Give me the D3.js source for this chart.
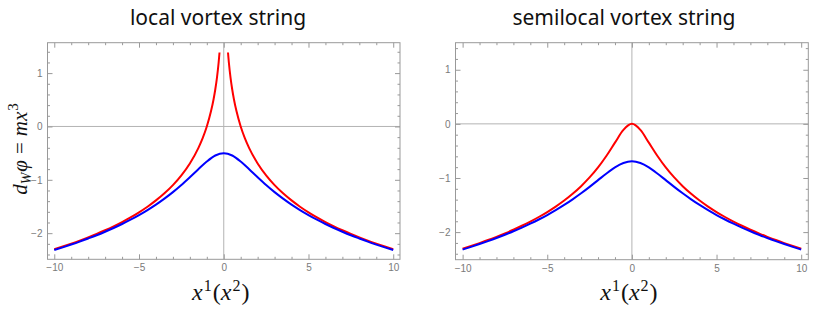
<!DOCTYPE html>
<html>
<head>
<meta charset="utf-8">
<script src="https://cdn.jsdelivr.net/npm/d3@7"></script>
<style>
  body { margin: 0; background: #fff; }
  .tick text { font-family: "Liberation Sans", Arial, sans-serif; font-size: 10px; fill: #7a7a7a; }
  .tick line { stroke: #999; }
  .title { font-family: "Noto Sans", sans-serif; font-size: 21px; fill: #111; }
  .math { font-family: "Liberation Serif", serif; fill: #111; }
</style>
</head>
<body>
<div id="chart"></div>
<script>
var svgWidth = 817;
var svgHeight = 312;

// sample points
var xs = [-10, -9.5, -9, -8.5, -8, -7.5, -7, -6.5, -6, -5.5, -5, -4.5, -4, -3.5, -3, -2.5, -2, -1.5, -1, -0.5, 0,
          0.5, 1, 1.5, 2, 2.5, 3, 3.5, 4, 4.5, 5, 5.5, 6, 6.5, 7, 7.5, 8, 8.5, 9, 9.5, 10];

var localBlue = [-2.316, -2.266, -2.214, -2.159, -2.100, -2.039, -1.973, -1.903, -1.828, -1.748, -1.661, -1.567, -1.465, -1.353, -1.231, -1.097, -0.952, -0.802, -0.657, -0.544, -0.500,
                 -0.544, -0.657, -0.802, -0.952, -1.097, -1.231, -1.353, -1.465, -1.567, -1.661, -1.748, -1.828, -1.903, -1.973, -2.039, -2.100, -2.159, -2.214, -2.266, -2.316];

// red local curve blows up at the string core, so it has its own x points and a gap at 0
var localRedX = [-10, -9.5, -9, -8.5, -8, -7.5, -7, -6.5, -6, -5.5, -5, -4.5, -4, -3.5, -3, -2.5, -2, -1.5, -1.25, -1, -0.75, -0.6, -0.5, -0.4, -0.3, -0.25, 0,
                 0.25, 0.3, 0.4, 0.5, 0.6, 0.75, 1, 1.25, 1.5, 2, 2.5, 3, 3.5, 4, 4.5, 5, 5.5, 6, 6.5, 7, 7.5, 8, 8.5, 9, 9.5, 10];
var localRed = [-2.303, -2.251, -2.197, -2.140, -2.079, -2.015, -1.946, -1.872, -1.792, -1.705, -1.609, -1.504, -1.386, -1.253, -1.099, -0.916, -0.693, -0.405, -0.223, 0, 0.288, 0.511, 0.693, 0.916, 1.204, 1.386, null,
                1.386, 1.204, 0.916, 0.693, 0.511, 0.288, 0, -0.223, -0.405, -0.693, -0.916, -1.099, -1.253, -1.386, -1.504, -1.609, -1.705, -1.792, -1.872, -1.946, -2.015, -2.079, -2.140, -2.197, -2.251, -2.303];

var semiRed = [-2.308, -2.257, -2.203, -2.147, -2.087, -2.024, -1.956, -1.883, -1.805, -1.721, -1.629, -1.528, -1.417, -1.292, -1.151, -0.990, -0.805, -0.589, -0.347, -0.112, 0,
               -0.112, -0.347, -0.589, -0.805, -0.990, -1.151, -1.292, -1.417, -1.528, -1.629, -1.721, -1.805, -1.883, -1.956, -2.024, -2.087, -2.147, -2.203, -2.257, -2.308];

var semiBlue = [-2.322, -2.273, -2.221, -2.167, -2.110, -2.049, -1.985, -1.917, -1.844, -1.767, -1.684, -1.594, -1.498, -1.394, -1.283, -1.164, -1.040, -0.916, -0.805, -0.724, -0.693,
                -0.724, -0.805, -0.916, -1.040, -1.164, -1.283, -1.394, -1.498, -1.594, -1.684, -1.767, -1.844, -1.917, -1.985, -2.049, -2.110, -2.167, -2.221, -2.273, -2.322];

var titles = ["local vortex string", "semilocal vortex string"];
var xMajor = [-10, -5, 0, 5, 10];
var xMinor = [-9, -8, -7, -6, -4, -3, -2, -1, 1, 2, 3, 4, 6, 7, 8, 9];
var yMajor = [-2, -1, 0, 1];
var yMinor = [-2.4, -2.2, -1.8, -1.6, -1.4, -1.2, -0.8, -0.6, -0.4, -0.2, 0.2, 0.4, 0.6, 0.8, 1.2, 1.4];

var panels = [
  { left: 47.5, right: 400, top: 42.7, bottom: 259.3, xDom: [-10.4, 10.4], yDom: [-2.49, 1.57], titleX: 218,
    series: [{ x: localRedX, y: localRed, color: "#ff0000" }, { x: xs, y: localBlue, color: "#0000ff" }] },
  { left: 455.5, right: 808.3, top: 42.7, bottom: 259.7, xDom: [-10.42, 10.42], yDom: [-2.51, 1.5], titleX: 624,
    series: [{ x: xs, y: semiRed, color: "#ff0000" }, { x: xs, y: semiBlue, color: "#0000ff" }] }
];

var fmt = d3.format("~g");

var svg = d3.select("#chart")
  .append("svg")
  .attr("width", svgWidth)
  .attr("height", svgHeight);

panels.forEach(function(p, i) {
  var x = d3.scaleLinear().domain(p.xDom).range([p.left, p.right]);
  var y = d3.scaleLinear().domain(p.yDom).range([p.bottom, p.top]);
  var g = svg.append("g");

  g.append("clipPath").attr("id", "clip" + i)
    .append("rect")
    .attr("x", p.left).attr("y", p.top)
    .attr("width", p.right - p.left).attr("height", p.bottom - p.top);

  // axis lines through the origin
  g.append("line")
    .attr("x1", p.left).attr("x2", p.right)
    .attr("y1", y(0)).attr("y2", y(0))
    .attr("stroke", "#b3b3b3");
  g.append("line")
    .attr("x1", x(0)).attr("x2", x(0))
    .attr("y1", p.top).attr("y2", p.bottom)
    .attr("stroke", "#b3b3b3");

  // frame ticks, all pointing inward
  function addAxis(axisFn, scale, vals, size, pos, labels) {
    var a = axisFn(scale).tickValues(vals).tickSize(-size).tickSizeOuter(0).tickPadding(5);
    a.tickFormat(labels ? fmt : "");
    var ag = g.append("g").attr("transform", pos).call(a);
    ag.select(".domain").remove();
    return ag;
  }
  addAxis(d3.axisBottom, x, xMinor, 2.5, `translate(0,${p.bottom})`, false);
  addAxis(d3.axisBottom, x, xMajor, 5, `translate(0,${p.bottom})`, true);
  addAxis(d3.axisTop, x, xMinor, 2.5, `translate(0,${p.top})`, false);
  addAxis(d3.axisTop, x, xMajor, 5, `translate(0,${p.top})`, false);
  addAxis(d3.axisLeft, y, yMinor, 2.5, `translate(${p.left},0)`, false);
  addAxis(d3.axisLeft, y, yMajor, 5, `translate(${p.left},0)`, true);
  addAxis(d3.axisRight, y, yMinor, 2.5, `translate(${p.right},0)`, false);
  addAxis(d3.axisRight, y, yMajor, 5, `translate(${p.right},0)`, false);

  g.append("rect")
    .attr("x", p.left).attr("y", p.top)
    .attr("width", p.right - p.left).attr("height", p.bottom - p.top)
    .attr("fill", "none")
    .attr("stroke", "#999");

  var line = d3.line()
    .defined(d => d[1] != null)
    .x(d => x(d[0]))
    .y(d => y(d[1]))
    .curve(d3.curveMonotoneX);

  p.series.forEach(function(s) {
    g.append("path")
      .datum(d3.zip(s.x, s.y))
      .attr("clip-path", `url(#clip${i})`)
      .attr("d", line)
      .attr("fill", "none")
      .attr("stroke", s.color)
      .attr("stroke-width", 2);
  });

  g.append("text")
    .attr("class", "title")
    .attr("x", p.titleX)
    .attr("y", 24.5)
    .attr("text-anchor", "middle")
    .text(titles[i]);

  // x label: x^1(x^2)
  var xl = g.append("text")
    .attr("class", "math")
    .attr("x", x(0) - 3)
    .attr("y", 300)
    .attr("text-anchor", "middle")
    .attr("font-size", 24);
  xl.append("tspan").attr("font-style", "italic").text("x");
  xl.append("tspan").attr("dy", -9).attr("dx", 1).attr("font-size", 16).text("1");
  xl.append("tspan").attr("dy", 9).attr("dx", 1).text("(");
  xl.append("tspan").attr("font-style", "italic").text("x");
  xl.append("tspan").attr("dy", -9).attr("dx", 1).attr("font-size", 16).text("2");
  xl.append("tspan").attr("dy", 9).attr("dx", 1).text(")");
});

// y label: d_W phi = m x^3
var yl = svg.append("text")
  .attr("class", "math")
  .attr("transform", "translate(27,149) rotate(-90)")
  .attr("text-anchor", "middle")
  .attr("font-size", 21);
yl.append("tspan").attr("font-style", "italic").text("d");
yl.append("tspan").attr("font-style", "italic").attr("dy", 4).attr("font-size", 14).text("W");
yl.append("tspan").attr("font-style", "italic").attr("dy", -4).attr("dx", 1).text("\u03C6");
yl.append("tspan").attr("dx", 6).text("=");
yl.append("tspan").attr("dx", 6).attr("font-style", "italic").text("mx");
yl.append("tspan").attr("dy", -9).attr("dx", 1).attr("font-size", 15).text("3");
</script>
</body>
</html>
